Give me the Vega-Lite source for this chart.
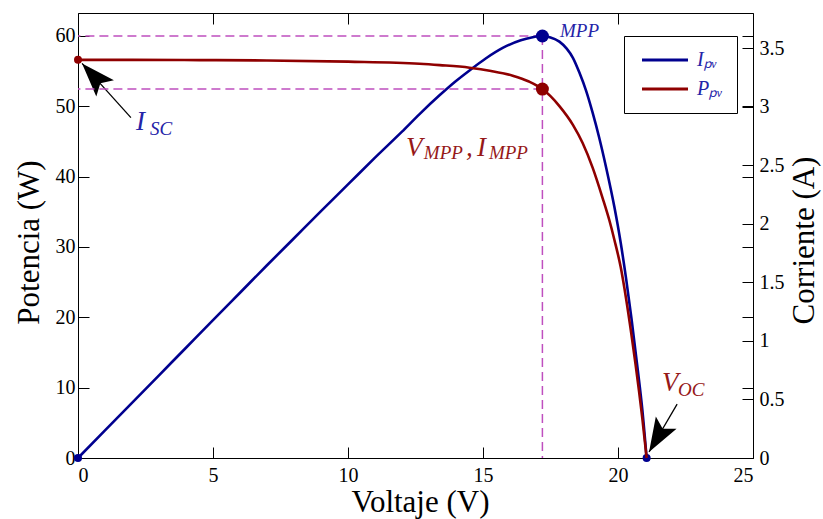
{
  "$schema": "https://vega.github.io/schema/vega-lite/v6.json",
  "width": 675,
  "height": 445,
  "autosize": {"type": "none"},
  "padding": {"left": 78, "top": 13, "right": 70, "bottom": 61},
  "background": "white",
  "datasets": {
    "potencia": [
      {"curva": "Iₚᵥ", "V": 0, "P": 0}, {"curva": "Iₚᵥ", "V": 1, "P": 3.92}, {"curva": "Iₚᵥ", "V": 2, "P": 7.84},
      {"curva": "Iₚᵥ", "V": 3, "P": 11.76}, {"curva": "Iₚᵥ", "V": 4, "P": 15.68}, {"curva": "Iₚᵥ", "V": 5, "P": 19.6},
      {"curva": "Iₚᵥ", "V": 6, "P": 23.5}, {"curva": "Iₚᵥ", "V": 7, "P": 27.4}, {"curva": "Iₚᵥ", "V": 8, "P": 31.25},
      {"curva": "Iₚᵥ", "V": 9, "P": 35.1}, {"curva": "Iₚᵥ", "V": 10, "P": 38.9}, {"curva": "Iₚᵥ", "V": 11, "P": 42.7},
      {"curva": "Iₚᵥ", "V": 12, "P": 46.4}, {"curva": "Iₚᵥ", "V": 12.65, "P": 48.9}, {"curva": "Iₚᵥ", "V": 13.4, "P": 51.6},
      {"curva": "Iₚᵥ", "V": 14, "P": 53.6}, {"curva": "Iₚᵥ", "V": 14.5, "P": 55.1}, {"curva": "Iₚᵥ", "V": 15.1, "P": 56.8},
      {"curva": "Iₚᵥ", "V": 15.73, "P": 58.3}, {"curva": "Iₚᵥ", "V": 16.4, "P": 59.4}, {"curva": "Iₚᵥ", "V": 16.8, "P": 59.8},
      {"curva": "Iₚᵥ", "V": 17.2, "P": 60.0}, {"curva": "Iₚᵥ", "V": 17.5, "P": 59.8}, {"curva": "Iₚᵥ", "V": 17.83, "P": 59.2},
      {"curva": "Iₚᵥ", "V": 18.1, "P": 58.2}, {"curva": "Iₚᵥ", "V": 18.33, "P": 56.9}, {"curva": "Iₚᵥ", "V": 18.57, "P": 54.8},
      {"curva": "Iₚᵥ", "V": 18.82, "P": 52.2}, {"curva": "Iₚᵥ", "V": 19.06, "P": 49.1}, {"curva": "Iₚᵥ", "V": 19.3, "P": 45.6},
      {"curva": "Iₚᵥ", "V": 19.56, "P": 41.3}, {"curva": "Iₚᵥ", "V": 19.87, "P": 35.6}, {"curva": "Iₚᵥ", "V": 20.1, "P": 30.6},
      {"curva": "Iₚᵥ", "V": 20.3, "P": 25.5}, {"curva": "Iₚᵥ", "V": 20.5, "P": 19.8}, {"curva": "Iₚᵥ", "V": 20.73, "P": 12.6},
      {"curva": "Iₚᵥ", "V": 20.9, "P": 6.9}, {"curva": "Iₚᵥ", "V": 21.06, "P": 0}
    ],
    "corriente": [
      {"curva": "Pₚᵥ", "V": 0, "I": 3.40}, {"curva": "Pₚᵥ", "V": 2, "I": 3.40}, {"curva": "Pₚᵥ", "V": 4.5, "I": 3.398},
      {"curva": "Pₚᵥ", "V": 7, "I": 3.395}, {"curva": "Pₚᵥ", "V": 10, "I": 3.385}, {"curva": "Pₚᵥ", "V": 12.65, "I": 3.367},
      {"curva": "Pₚᵥ", "V": 13.4, "I": 3.355}, {"curva": "Pₚᵥ", "V": 14.5, "I": 3.333}, {"curva": "Pₚᵥ", "V": 15.3, "I": 3.305},
      {"curva": "Pₚᵥ", "V": 16.1, "I": 3.265}, {"curva": "Pₚᵥ", "V": 16.7, "I": 3.215}, {"curva": "Pₚᵥ", "V": 17.2, "I": 3.15},
      {"curva": "Pₚᵥ", "V": 17.5, "I": 3.09}, {"curva": "Pₚᵥ", "V": 17.83, "I": 3.005}, {"curva": "Pₚᵥ", "V": 18.33, "I": 2.845},
      {"curva": "Pₚᵥ", "V": 18.69, "I": 2.69}, {"curva": "Pₚᵥ", "V": 19.06, "I": 2.48}, {"curva": "Pₚᵥ", "V": 19.43, "I": 2.22},
      {"curva": "Pₚᵥ", "V": 19.68, "I": 2.03}, {"curva": "Pₚᵥ", "V": 19.87, "I": 1.86}, {"curva": "Pₚᵥ", "V": 20.1, "I": 1.63},
      {"curva": "Pₚᵥ", "V": 20.3, "I": 1.36}, {"curva": "Pₚᵥ", "V": 20.5, "I": 1.05}, {"curva": "Pₚᵥ", "V": 20.65, "I": 0.8},
      {"curva": "Pₚᵥ", "V": 20.78, "I": 0.57}, {"curva": "Pₚᵥ", "V": 20.9, "I": 0.34}, {"curva": "Pₚᵥ", "V": 21.0, "I": 0.13},
      {"curva": "Pₚᵥ", "V": 21.06, "I": 0}
    ],
    "mpp": [{"V": 17.2, "P": 60, "I": 3.15}],
    "notas": [
      {"grupo": "azul", "parte": "base", "texto": "I", "V": 2.15, "P": 46.6},
      {"grupo": "azul", "parte": "sub", "texto": "SC", "V": 2.67, "P": 45.9},
      {"grupo": "azul", "parte": "sub", "texto": "MPP", "V": 17.85, "P": 59.9},
      {"grupo": "rojo", "parte": "base", "texto": "V", "V": 12.15, "P": 43.0},
      {"grupo": "rojo", "parte": "sub", "texto": "MPP", "V": 12.81, "P": 42.5},
      {"grupo": "rojo", "parte": "base", "texto": ",", "V": 14.37, "P": 43.0},
      {"grupo": "rojo", "parte": "base", "texto": "I", "V": 14.78, "P": 43.0},
      {"grupo": "rojo", "parte": "sub", "texto": "MPP", "V": 15.22, "P": 42.5},
      {"grupo": "rojo", "parte": "base", "texto": "V", "V": 21.63, "P": 9.5},
      {"grupo": "rojo", "parte": "sub", "texto": "OC", "V": 22.22, "P": 8.8}
    ],
    "flechas": [
      {"nombre": "Isc", "V": 0.15, "P": 56.1, "V_inicio": 1.96, "P_inicio": 48.4},
      {"nombre": "Voc", "V": 21.15, "P": 0.85, "V_inicio": 22.19, "P_inicio": 7.67}
    ]
  },
  "layer": [
    {
      "encoding": {
        "x": {
          "field": "V", "type": "quantitative",
          "scale": {"domain": [0, 25], "nice": false},
          "axis": {"orient": "bottom", "values": [0, 5, 10, 15, 20, 25], "title": "Voltaje (V)", "labelPadding": 18, "titlePadding": 2, "titleX": 342}
        },
        "y": {
          "field": "P", "type": "quantitative",
          "scale": {"domain": [0, 63.27], "nice": false},
          "axis": {"orient": "left", "values": [0, 10, 20, 30, 40, 50, 60], "title": "Potencia (W)", "labelPadding": 14, "titlePadding": 10, "titleY": 229}
        }
      },
      "layer": [
        {
          "data": {"name": "mpp"},
          "mark": {"type": "rule", "stroke": "#bf4fbf", "strokeWidth": 1.5, "strokeDash": [9, 5]},
          "encoding": {"x2": {"datum": 0}}
        },
        {
          "data": {"name": "mpp"},
          "mark": {"type": "rule", "stroke": "#bf4fbf", "strokeWidth": 1.5, "strokeDash": [9, 5]},
          "encoding": {"y2": {"datum": 0}}
        },
        {
          "data": {"name": "potencia"},
          "mark": {"type": "line", "strokeWidth": 2.6, "interpolate": "monotone"},
          "encoding": {
            "color": {
              "field": "curva", "type": "nominal",
              "scale": {"domain": ["Iₚᵥ", "Pₚᵥ"], "range": ["#00008f", "#8f0000"]},
              "legend": {
                "title": null, "orient": "none", "legendX": 546, "legendY": 23,
                "symbolType": "M-4.6,0H4.6", "symbolSize": 100, "symbolStrokeWidth": 3,
                "labelFont": "Liberation Serif", "labelFontStyle": "italic", "labelFontSize": 20,
                "labelColor": "#2424a8", "strokeColor": "black", "fillColor": "white",
                "padding": 14, "rowPadding": 9, "labelOffset": 22, "symbolOffset": 17
              }
            }
          }
        },
        {
          "data": {"name": "potencia"},
          "transform": [{"filter": "datum.P == 0"}],
          "mark": {"type": "point", "filled": true, "opacity": 1, "size": 64, "color": "#00008f"}
        },
        {
          "data": {"name": "mpp"},
          "mark": {"type": "point", "filled": true, "opacity": 1, "size": 169, "color": "#00008f"}
        },
        {
          "data": {"name": "flechas"},
          "mark": {"type": "rule", "stroke": "black", "strokeWidth": 1.3},
          "encoding": {"x2": {"field": "V_inicio"}, "y2": {"field": "P_inicio"}}
        },
        {
          "data": {"name": "flechas"},
          "transform": [{"filter": "datum.nombre == 'Isc'"}],
          "mark": {"type": "point", "shape": "M0,0L-1.2,3.4L0,2.7L1.2,3.4Z", "filled": true, "opacity": 1, "size": 400, "angle": 317.3, "color": "black"}
        },
        {
          "data": {"name": "flechas"},
          "transform": [{"filter": "datum.nombre == 'Voc'"}],
          "mark": {"type": "point", "shape": "M0,0L-1.2,3.4L0,2.7L1.2,3.4Z", "filled": true, "opacity": 1, "size": 400, "angle": 210.3, "color": "black"}
        },
        {
          "data": {"name": "notas"},
          "transform": [{"filter": "datum.grupo == 'azul' && datum.parte == 'base'"}],
          "mark": {"type": "text", "align": "left", "baseline": "alphabetic", "font": "Liberation Serif", "fontStyle": "italic", "fontSize": 27, "color": "#2424a8"},
          "encoding": {"text": {"field": "texto", "type": "nominal"}}
        },
        {
          "data": {"name": "notas"},
          "transform": [{"filter": "datum.grupo == 'azul' && datum.parte == 'sub'"}],
          "mark": {"type": "text", "align": "left", "baseline": "alphabetic", "font": "Liberation Serif", "fontStyle": "italic", "fontSize": 19, "color": "#2424a8"},
          "encoding": {"text": {"field": "texto", "type": "nominal"}}
        },
        {
          "data": {"name": "notas"},
          "transform": [{"filter": "datum.grupo == 'rojo' && datum.parte == 'base'"}],
          "mark": {"type": "text", "align": "left", "baseline": "alphabetic", "font": "Liberation Serif", "fontStyle": "italic", "fontSize": 27, "color": "#961818"},
          "encoding": {"text": {"field": "texto", "type": "nominal"}}
        },
        {
          "data": {"name": "notas"},
          "transform": [{"filter": "datum.grupo == 'rojo' && datum.parte == 'sub'"}],
          "mark": {"type": "text", "align": "left", "baseline": "alphabetic", "font": "Liberation Serif", "fontStyle": "italic", "fontSize": 19, "color": "#961818"},
          "encoding": {"text": {"field": "texto", "type": "nominal"}}
        }
      ]
    },
    {
      "encoding": {
        "x": {
          "field": "V", "type": "quantitative",
          "scale": {"domain": [0, 25], "nice": false},
          "axis": {"orient": "top", "values": [0, 5, 10, 15, 20, 25], "labels": false, "title": null}
        },
        "y": {
          "field": "I", "type": "quantitative",
          "scale": {"domain": [0, 3.8], "nice": false},
          "axis": {"orient": "right", "values": [0, 0.5, 1, 1.5, 2, 2.5, 3, 3.5], "format": "~g", "title": "Corriente (A)", "titleAngle": -90, "labelPadding": 17, "titlePadding": 36, "titleY": 227}
        }
      },
      "layer": [
        {
          "data": {"name": "mpp"},
          "mark": {"type": "rule", "stroke": "#bf4fbf", "strokeWidth": 1.5, "strokeDash": [9, 5]},
          "encoding": {"x2": {"datum": 0}}
        },
        {
          "data": {"name": "corriente"},
          "mark": {"type": "line", "strokeWidth": 2.6, "interpolate": "monotone"},
          "encoding": {
            "color": {
              "field": "curva", "type": "nominal",
              "scale": {"domain": ["Iₚᵥ", "Pₚᵥ"], "range": ["#00008f", "#8f0000"]}
            }
          }
        },
        {
          "data": {"name": "corriente"},
          "transform": [{"filter": "datum.V == 0"}],
          "mark": {"type": "point", "filled": true, "opacity": 1, "size": 64, "color": "#8f0000"}
        },
        {
          "data": {"name": "mpp"},
          "mark": {"type": "point", "filled": true, "opacity": 1, "size": 169, "color": "#8f0000"}
        }
      ]
    },
    {
      "data": {"name": "mpp"},
      "mark": {"type": "point", "opacity": 0},
      "encoding": {
        "x": {"field": "V", "type": "quantitative", "scale": {"domain": [0, 25], "nice": false}, "axis": null},
        "y": {
          "field": "P", "type": "quantitative",
          "scale": {"domain": [0, 63.27], "nice": false},
          "axis": {"orient": "right", "values": [0, 10, 20, 30, 40, 50, 60], "labels": false, "title": null, "domain": false}
        }
      }
    }
  ],
  "resolve": {
    "scale": {"y": "independent"},
    "axis": {"x": "independent", "y": "independent"}
  },
  "config": {
    "view": {"stroke": null},
    "axis": {
      "grid": false,
      "domainColor": "black",
      "domainWidth": 1,
      "tickColor": "black",
      "tickWidth": 1,
      "tickSize": -11,
      "labelColor": "black",
      "labelFont": "Liberation Serif",
      "labelFontSize": 20,
      "titleColor": "black",
      "titleFont": "Liberation Serif",
      "titleFontSize": 31,
      "titleFontWeight": "normal"
    }
  }
}
